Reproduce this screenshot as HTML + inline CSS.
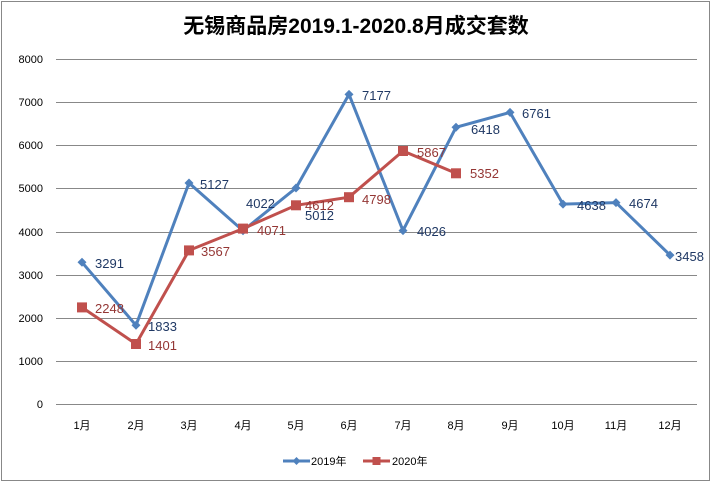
<!DOCTYPE html>
<html><head><meta charset="utf-8"><style>
body{margin:0;background:#fff}
svg{display:block}
text{font-family:"Liberation Sans","Noto Sans CJK SC",sans-serif}
</style></head><body>
<svg width="712" height="483" viewBox="0 0 712 483">
<rect x="1.5" y="1.5" width="708" height="479" fill="#fff" stroke="#888"/>
<text x="356" y="33" text-anchor="middle" font-size="21" font-weight="bold" fill="#000" font-family="'Noto Serif CJK SC','Liberation Serif',serif">无锡商品房2019.1-2020.8月成交套数</text>
<g stroke="#888" stroke-width="1">
<line x1="56" x2="697" y1="59.5" y2="59.5"/><line x1="56" x2="697" y1="102.5" y2="102.5"/>
<line x1="56" x2="697" y1="145.5" y2="145.5"/><line x1="56" x2="697" y1="188.5" y2="188.5"/>
<line x1="56" x2="697" y1="232.5" y2="232.5"/><line x1="56" x2="697" y1="275.5" y2="275.5"/>
<line x1="56" x2="697" y1="318.5" y2="318.5"/><line x1="56" x2="697" y1="361.5" y2="361.5"/>
<line x1="56" x2="697" y1="404.5" y2="404.5"/>
</g>
<g font-size="11" fill="#000" text-anchor="end">
<text x="43" y="63">8000</text><text x="43" y="106">7000</text><text x="43" y="149">6000</text>
<text x="43" y="192">5000</text><text x="43" y="236">4000</text><text x="43" y="279">3000</text>
<text x="43" y="322">2000</text><text x="43" y="365">1000</text><text x="43" y="408">0</text>
</g>
<g font-size="11" fill="#000" text-anchor="middle">
<text x="82" y="429">1月</text><text x="136" y="429">2月</text><text x="189" y="429">3月</text>
<text x="243" y="429">4月</text><text x="296" y="429">5月</text><text x="349" y="429">6月</text>
<text x="403" y="429">7月</text><text x="456" y="429">8月</text><text x="510" y="429">9月</text>
<text x="563" y="429">10月</text><text x="616" y="429">11月</text><text x="670" y="429">12月</text>
</g>
<polyline fill="none" stroke="#4f81bd" stroke-width="3" points="82,262.3 136,325.3 189,183 243,230.7 296,188 349,94.4 403,230.6 456,127.3 510,112.4 563,204.1 616,202.6 670,255.1"/>
<g fill="#4f81bd">
<path d="M82 257.8l4.5 4.5-4.5 4.5-4.5-4.5z"/><path d="M136 320.8l4.5 4.5-4.5 4.5-4.5-4.5z"/>
<path d="M189 178.5l4.5 4.5-4.5 4.5-4.5-4.5z"/><path d="M243 226.2l4.5 4.5-4.5 4.5-4.5-4.5z"/>
<path d="M296 183.5l4.5 4.5-4.5 4.5-4.5-4.5z"/><path d="M349 89.9l4.5 4.5-4.5 4.5-4.5-4.5z"/>
<path d="M403 226.1l4.5 4.5-4.5 4.5-4.5-4.5z"/><path d="M456 122.8l4.5 4.5-4.5 4.5-4.5-4.5z"/>
<path d="M510 107.9l4.5 4.5-4.5 4.5-4.5-4.5z"/><path d="M563 199.6l4.5 4.5-4.5 4.5-4.5-4.5z"/>
<path d="M616 198.1l4.5 4.5-4.5 4.5-4.5-4.5z"/><path d="M670 250.6l4.5 4.5-4.5 4.5-4.5-4.5z"/>
</g>
<polyline fill="none" stroke="#c0504d" stroke-width="3" points="82,307.4 136,344 189,250.4 243,228.6 296,205.3 349,197.2 403,151 456,173.3"/>
<g fill="#c0504d">
<rect x="77" y="302.4" width="10" height="10"/><rect x="131" y="339" width="10" height="10"/>
<rect x="184" y="245.4" width="10" height="10"/><rect x="238" y="223.6" width="10" height="10"/>
<rect x="291" y="200.3" width="10" height="10"/><rect x="344" y="192.2" width="10" height="10"/>
<rect x="398" y="146" width="10" height="10"/><rect x="451" y="168.3" width="10" height="10"/>
</g>
<g font-size="13" fill="#1f3864">
<text x="95" y="268">3291</text><text x="148" y="331">1833</text><text x="200" y="189">5127</text>
<text x="246" y="208">4022</text><text x="305" y="220">5012</text><text x="362" y="100">7177</text>
<text x="417" y="236">4026</text><text x="471" y="134">6418</text><text x="522" y="118">6761</text>
<text x="577" y="210">4638</text><text x="629" y="208">4674</text><text x="675" y="261">3458</text>
</g>
<g font-size="13" fill="#943634">
<text x="95" y="313">2248</text><text x="148" y="350">1401</text><text x="201" y="256">3567</text>
<text x="257" y="235">4071</text><text x="305" y="210">4612</text><text x="362" y="204">4798</text>
<text x="417" y="157">5867</text><text x="470" y="178">5352</text>
</g>
<line x1="283" x2="310" y1="461" y2="461" stroke="#4f81bd" stroke-width="3"/>
<path d="M296.5 457l4 4-4 4-4-4z" fill="#4f81bd"/>
<text x="311" y="465" font-size="11">2019年</text>
<line x1="363" x2="390" y1="461" y2="461" stroke="#c0504d" stroke-width="3"/>
<rect x="372.5" y="457" width="8" height="8" fill="#c0504d"/>
<text x="392" y="465" font-size="11">2020年</text>
</svg>
</body></html>
